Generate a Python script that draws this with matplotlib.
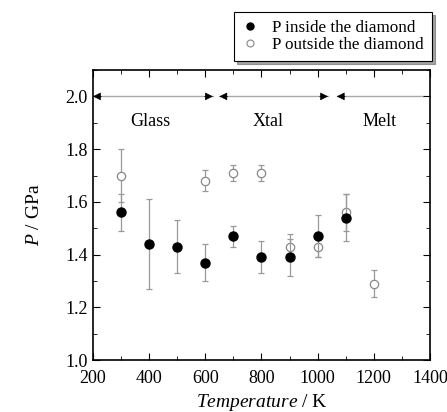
import matplotlib
matplotlib.use("Agg")
import matplotlib.pyplot as plt
from matplotlib.ticker import MultipleLocator
from matplotlib.lines import Line2D

plt.rcParams['font.family'] = 'Liberation Serif'
plt.rcParams['mathtext.fontset'] = 'custom'
plt.rcParams['mathtext.rm'] = 'Liberation Serif'
plt.rcParams['mathtext.it'] = 'Liberation Serif:italic'

# P inside the diamond
temp_in = [300, 400, 500, 600, 700, 800, 900, 1000, 1100]
p_in = [1.56, 1.44, 1.43, 1.37, 1.47, 1.39, 1.39, 1.47, 1.54]
err_in = [0.07, 0.17, 0.10, 0.07, 0.04, 0.06, 0.07, 0.08, 0.09]

# P outside the diamond
temp_out = [300, 600, 700, 800, 900, 1000, 1100, 1200]
p_out = [1.70, 1.68, 1.71, 1.71, 1.43, 1.43, 1.56, 1.29]
err_out = [0.10, 0.04, 0.03, 0.03, 0.05, 0.04, 0.07, 0.05]

# phase regions: (label, start, end, label x)
phases = [("Glass", 200, 627, 405), ("Xtal", 650, 1037, 822), ("Melt", 1068, 1375, 1222)]
phase_y = 2.0
label_y = 1.905

fig = plt.figure(figsize=(4.47, 4.12), dpi=100)
ax = fig.add_axes([0.208, 0.126, 0.754, 0.704])

ax.errorbar(temp_out, p_out, yerr=err_out, fmt='o', mfc='white', mec='#888888',
            mew=0.9, ms=6, ecolor='#999999', elinewidth=0.9, capsize=2,
            capthick=0.9, zorder=2)
ax.errorbar(temp_in, p_in, yerr=err_in, fmt='o', color='black', ms=6.5,
            ecolor='#999999', elinewidth=0.9, capsize=2, capthick=0.9,
            zorder=3)

for name, x0, x1, xl in phases:
    ax.plot([x0, x1], [phase_y, phase_y], color='#aaaaaa', lw=1, zorder=1)
    ax.annotate('', xy=(x0, phase_y), xytext=(x0 + 30, phase_y),
                arrowprops=dict(arrowstyle='-|>', color='black', shrinkA=0, shrinkB=0,
                                mutation_scale=12, lw=0.5))
    if name != "Melt":
        ax.annotate('', xy=(x1, phase_y), xytext=(x1 - 30, phase_y),
                    arrowprops=dict(arrowstyle='-|>', color='black', shrinkA=0, shrinkB=0,
                                    mutation_scale=12, lw=0.5))
    ax.text(xl, label_y, name, ha='center', va='center', fontsize=13)

ax.set_xlim(200, 1400)
ax.set_ylim(1.0, 2.1)
ax.xaxis.set_major_locator(MultipleLocator(200))
ax.xaxis.set_minor_locator(MultipleLocator(100))
ax.yaxis.set_major_locator(MultipleLocator(0.2))
ax.yaxis.set_minor_locator(MultipleLocator(0.1))
ax.yaxis.set_major_formatter(plt.FormatStrFormatter('%.1f'))
ax.tick_params(which='both', direction='in', top=True, right=True, labelsize=13)
ax.tick_params(which='major', length=5)
ax.tick_params(which='minor', length=3)
ax.tick_params(axis='x', pad=7)
ax.tick_params(axis='y', pad=4)
for s in ax.spines.values():
    s.set_linewidth(1.2)

ax.set_xlabel('$Temperature$ / K', fontsize=14, labelpad=4)
ax.set_ylabel('$P$ / GPa', fontsize=14, labelpad=16)

handles = [
    Line2D([], [], ls='none', marker='o', color='black', ms=5),
    Line2D([], [], ls='none', marker='o', mfc='white', mec='#888888', mew=0.8, ms=5),
]
labels = ['P inside the diamond', 'P outside the diamond']
leg = fig.legend(handles, labels, loc='upper right',
                 bbox_to_anchor=(0.966, 0.971), fontsize=12.3, frameon=True,
                 fancybox=False, shadow=True, edgecolor='black',
                 handlelength=1.0, handletextpad=0.8, borderpad=0.45,
                 labelspacing=0.1, borderaxespad=0.0)
leg.get_frame().set_linewidth(0.8)

fig.savefig('out.png', dpi=100)
